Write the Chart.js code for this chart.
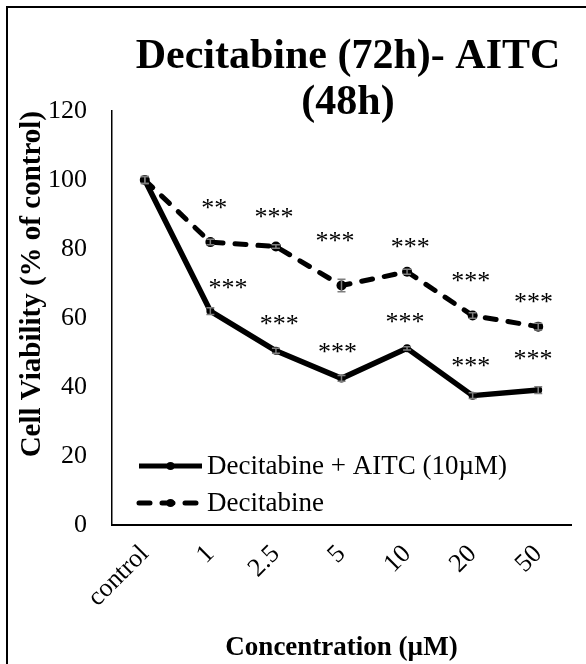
<!DOCTYPE html>
<html><head><meta charset="utf-8">
<script src="https://cdn.jsdelivr.net/npm/chart.js@4.4.1/dist/chart.umd.min.js"></script>
<style>html,body{margin:0;padding:0;background:#fff;} #wrap{width:586px;height:664px;position:relative;}</style>
</head><body><div id="wrap"><canvas id="c" width="586" height="664"></canvas></div>
<script>
const chartTitle = ['Decitabine (72h)- AITC', '(48h)'];
const categories = ['control', '1', '2.5', '5', '10', '20', '50'];
const seriesNames = ['Decitabine + AITC (10\u00b5M)', 'Decitabine'];
const comboValues = [100, 62, 50.5, 42.5, 51.2, 37.5, 39.1];
const comboErrors = [1.0, 1.0, 0.7, 0.8, 0.5, 0.8, 1.0];
const decitabineValues = [100, 82, 80.7, 69.4, 73.4, 60.7, 57.5];
const decitabineErrors = [1.0, 0.8, 0.5, 1.8, 0.7, 0.8, 1.0];
const comboSig = ['', '***', '***', '***', '***', '***', '***'];
const comboSigX = [0, 1.27, 2.05, 2.94, 3.97, 4.97, 5.92];
const comboSigY = [0, 69.6, 59.2, 50.9, 59.8, 46.9, 49.0];
const decSig = ['', '**', '***', '***', '***', '***', '***'];
const decSigX = [0, 1.06, 1.97, 2.90, 4.05, 4.97, 5.93];
const decSigY = [0, 92.8, 90.0, 83.2, 81.3, 71.5, 65.4];
const yMin = 0, yMax = 120, yStep = 20;
const xTitle = 'Concentration (\u00b5M)';
const yTitle = 'Cell Viability (% of control)';

const SERIF = "'Liberation Serif', 'Times New Roman', serif";

const errorBars = {
  id: 'errorBars',
  afterDatasetsDraw(chart) {
    const ctx = chart.ctx, xs = chart.scales.x, ys = chart.scales.y;
    const errs = [comboErrors, decitabineErrors];
    ctx.save();
    ctx.strokeStyle = '#7f7f7f';
    ctx.lineWidth = 1.5;
    chart.data.datasets.forEach((ds, i) => {
      ds.data.forEach((v, j) => {
        const e = errs[i][j];
        const x = xs.getPixelForValue(j);
        const y1 = ys.getPixelForValue(v - e), y2 = ys.getPixelForValue(v + e);
        ctx.beginPath();
        ctx.moveTo(x, y1); ctx.lineTo(x, y2);
        ctx.moveTo(x - 4, y1); ctx.lineTo(x + 4, y1);
        ctx.moveTo(x - 4, y2); ctx.lineTo(x + 4, y2);
        ctx.stroke();
      });
    });
    ctx.restore();
  }
};

const extras = {
  id: 'extras',
  afterDraw(chart) {
    const ctx = chart.ctx, xs = chart.scales.x, ys = chart.scales.y, ca = chart.chartArea;
    ctx.save();
    // outer frame (left & top)
    ctx.strokeStyle = '#000'; ctx.lineWidth = 2;
    ctx.beginPath(); ctx.moveTo(7, 664); ctx.lineTo(7, 7); ctx.lineTo(586, 7); ctx.stroke();
    // title
    ctx.fillStyle = '#000';
    ctx.font = 'bold 42px ' + SERIF;
    ctx.textAlign = 'center'; ctx.textBaseline = 'alphabetic';
    ctx.fillText(chartTitle[0], 348, 68);
    ctx.fillText(chartTitle[1], 348, 114);
    // significance labels
    ctx.font = '26px ' + SERIF;
    ctx.textBaseline = 'middle';
    const drawSig = (labels, xsArr, ysArr) => {
      labels.forEach((t, j) => {
        if (!t) return;
        ctx.fillText(t, xs.getPixelForValue(xsArr[j]), ys.getPixelForValue(ysArr[j]) + 4);
      });
    };
    drawSig(comboSig, comboSigX, comboSigY);
    drawSig(decSig, decSigX, decSigY);
    // legend
    const rows = [ca.bottom - 59, ca.bottom - 22];
    chart.data.datasets.forEach((ds, i) => {
      const y = rows[i];
      const x0 = ca.left + 27, x1 = ca.left + 90;
      ctx.save();
      ctx.strokeStyle = '#000'; ctx.lineWidth = 5; ctx.lineCap = ds.borderCapStyle || 'butt';
      ctx.setLineDash(ds.borderDash || []);
      ctx.beginPath(); ctx.moveTo(x0, y); ctx.lineTo(x1, y); ctx.stroke();
      ctx.setLineDash([]);
      ctx.fillStyle = '#000';
      ctx.beginPath(); ctx.arc((x0 + x1) / 2, y, 4, 0, Math.PI * 2); ctx.fill();
      ctx.restore();
      ctx.font = '27px ' + SERIF;
      ctx.textAlign = 'left'; ctx.textBaseline = 'middle';
      ctx.fillStyle = '#000';
      ctx.fillText(ds.label, ca.left + 95, y + 1);
    });
    ctx.restore();
  }
};

new Chart(document.getElementById('c'), {
  type: 'line',
  data: {
    labels: categories,
    datasets: [
      {
        label: seriesNames[0], data: comboValues,
        borderColor: '#000', backgroundColor: '#000', borderWidth: 5.5,
        pointRadius: 4, pointBorderWidth: 0, pointBackgroundColor: '#000',
        borderJoinStyle: 'round', tension: 0
      },
      {
        label: seriesNames[1], data: decitabineValues,
        borderColor: '#000', backgroundColor: '#000', borderWidth: 5,
        borderDash: [11, 12], borderCapStyle: 'round', borderJoinStyle: 'round',
        pointRadius: 5, pointBorderWidth: 0, pointBackgroundColor: '#000', tension: 0
      }
    ]
  },
  options: {
    responsive: false, animation: false, devicePixelRatio: 1,
    layout: { padding: { top: 111, right: 15, left: 0, bottom: 0 } },
    plugins: { legend: { display: false }, tooltip: { enabled: false }, title: { display: false } },
    scales: {
      x: {
        type: 'category', offset: true,
        grid: { display: false, drawTicks: false },
        border: { display: true, color: '#000', width: 2 },
        ticks: { color: '#000', font: { family: SERIF, size: 26 }, maxRotation: 45, minRotation: 45, padding: 14, autoSkip: false },
        title: { display: true, text: xTitle, color: '#000', font: { family: SERIF, size: 27, weight: 'bold' }, padding: { top: 5, bottom: 0 } },
        afterFit(s) { s.height = 139; }
      },
      y: {
        min: yMin, max: yMax,
        grid: { display: false, drawTicks: false },
        border: { display: true, color: '#000', width: 1.5 },
        ticks: { stepSize: yStep, color: '#000', font: { family: SERIF, size: 26 }, padding: 25 },
        title: { display: true, text: yTitle, color: '#000', font: { family: SERIF, size: 29, weight: 'bold' }, align: 'end', padding: { top: 15, bottom: 0 } },
        afterFit(s) { s.width = 112; }
      }
    }
  },
  plugins: [errorBars, extras]
});
</script></body></html>
